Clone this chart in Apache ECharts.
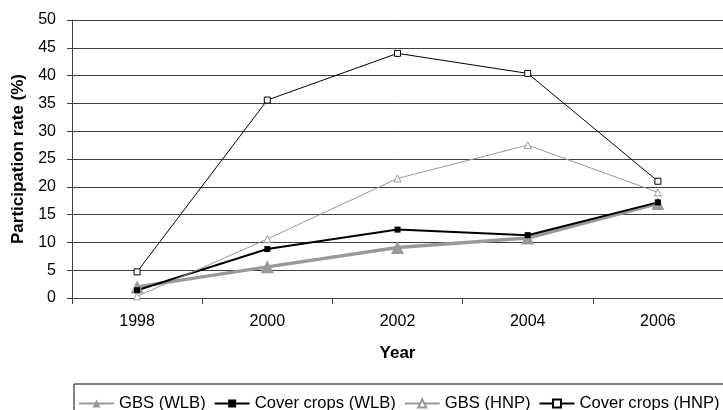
<!DOCTYPE html>
<html>
<head>
<meta charset="utf-8">
<script src="https://cdn.jsdelivr.net/npm/echarts@6/dist/echarts.min.js"></script>
<style>html,body{margin:0;padding:0;background:#fff;}#c{width:723px;height:410px;}</style>
</head>
<body>
<div id="c"></div>
<script>
var years = ['1998', '2000', '2002', '2004', '2006'];
var gbsWLB = [2.0, 5.6, 9.1, 10.8, 17.0];
var coverWLB = [1.4, 8.8, 12.3, 11.3, 17.2];
var gbsHNP = [0.3, 10.6, 21.5, 27.5, 19.0];
var coverHNP = [4.7, 35.6, 44.0, 40.4, 21.0];
var yTicks = {min: 0, max: 50, interval: 5};

var FONT = 'Liberation Sans, Arial, sans-serif';
var chart = echarts.init(document.getElementById('c'), null, {renderer: 'canvas'});
chart.setOption({
  animation: false,
  backgroundColor: '#fff',
  textStyle: {fontFamily: FONT, color: '#000'},
  grid: {left: 72, top: 20, right: -10, bottom: 112, containLabel: false},
  legend: {
    left: 74, top: 384, width: 700,
    padding: [11, 8, 10, 4],
    itemWidth: 35, itemHeight: 10, itemGap: 8,
    borderColor: '#000', borderWidth: 1,
    textStyle: {fontFamily: FONT, fontSize: 16.6, color: '#000'},
    data: ['GBS (WLB)', 'Cover crops (WLB)', 'GBS (HNP)', 'Cover crops (HNP)']
  },
  xAxis: {
    type: 'category', data: years, boundaryGap: true,
    name: 'Year', nameLocation: 'middle', nameGap: 47,
    nameTextStyle: {fontFamily: FONT, fontSize: 17, fontWeight: 'bold', color: '#000'},
    axisLine: {lineStyle: {color: '#444', width: 1}},
    axisTick: {show: true, length: 6, lineStyle: {color: '#444'}},
    axisLabel: {fontFamily: FONT, fontSize: 16, color: '#000', margin: 16},
    splitLine: {show: false}
  },
  yAxis: {
    type: 'value', min: yTicks.min, max: yTicks.max, interval: yTicks.interval,
    name: 'Participation rate (%)', nameLocation: 'middle', nameGap: 41, nameRotate: 90,
    nameTextStyle: {fontFamily: FONT, fontSize: 17, fontWeight: 'bold', color: '#000'},
    axisLine: {show: true, lineStyle: {color: '#444', width: 1}},
    axisTick: {show: true, length: 5, lineStyle: {color: '#444'}},
    axisLabel: {fontFamily: FONT, fontSize: 16, color: '#000', margin: 16},
    splitLine: {show: true, lineStyle: {color: '#404040', width: 1}}
  },
  series: [
    {
      name: 'GBS (WLB)', type: 'line', data: gbsWLB,
      symbol: 'triangle', symbolSize: 13,
      lineStyle: {color: '#999', width: 3.5},
      itemStyle: {color: '#999', borderColor: '#999', borderWidth: 0}
    },
    {
      name: 'Cover crops (WLB)', type: 'line', data: coverWLB,
      symbol: 'rect', symbolSize: 6,
      lineStyle: {color: '#000', width: 2},
      itemStyle: {color: '#000', borderColor: '#000', borderWidth: 0}
    },
    {
      name: 'GBS (HNP)', type: 'line', data: gbsHNP,
      symbol: 'triangle', symbolSize: 7,
      lineStyle: {color: '#999', width: 1},
      itemStyle: {color: '#fff', borderColor: '#999', borderWidth: 1}
    },
    {
      name: 'Cover crops (HNP)', type: 'line', data: coverHNP,
      symbol: 'rect', symbolSize: 6,
      lineStyle: {color: '#000', width: 1},
      itemStyle: {color: '#fff', borderColor: '#000', borderWidth: 1}
    }
  ]
});
</script>
</body>
</html>
